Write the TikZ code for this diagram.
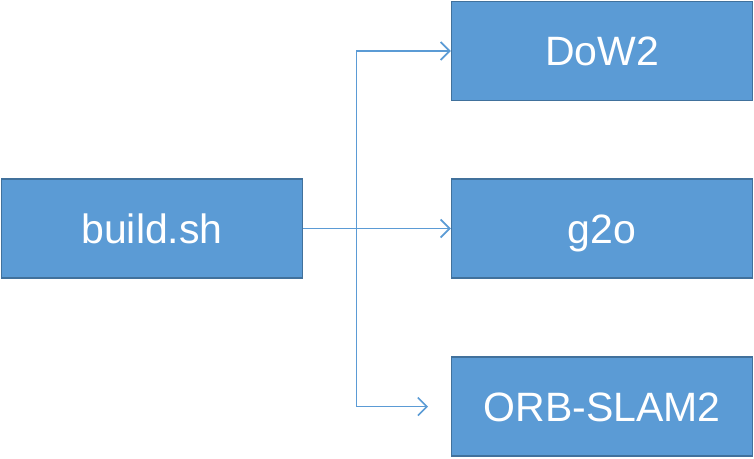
\documentclass[tikz,border=0pt]{standalone}
\usepackage{fontspec}
\setmainfont{Liberation Sans}
\usetikzlibrary{arrows.meta}
\definecolor{boxfill}{HTML}{5B9BD5}
\definecolor{boxedge}{HTML}{41719C}
\definecolor{linec}{HTML}{5B9BD5}
\begin{document}
\begin{tikzpicture}[x=1pt,y=-1pt,
  boxnode/.style={draw=boxedge,line width=1.5pt,fill=boxfill,text=white,
    minimum width=301pt,minimum height=99pt,inner sep=0pt,
    text height=29pt,text depth=0pt,
    font=\fontsize{41}{41}\selectfont},
  conn/.style={draw=linec,line width=1.6pt,-{Straight Barb[length=9pt,width=18pt,line width=1.6pt]}}]
\useasboundingbox (0,0) rectangle (754,458);
\node[boxnode] (b) at (152,228.5) {build.sh};
\node[boxnode] (d) at (602,51) {DoW2};
\node[boxnode] (g) at (602,228.5) {g2o};
\node[boxnode] (o) at (602,406.5) {ORB-SLAM2};
\coordinate (j) at (356.5,228.5);
\coordinate (oe) at (428,406.5);
\draw[draw=linec,line width=1.6pt] (b.east) -- (j);
\draw[conn] (j) |- (d.west);
\draw[conn] (j) -- (g.west);
\draw[conn] (j) |- (oe);
\end{tikzpicture}
\end{document}
